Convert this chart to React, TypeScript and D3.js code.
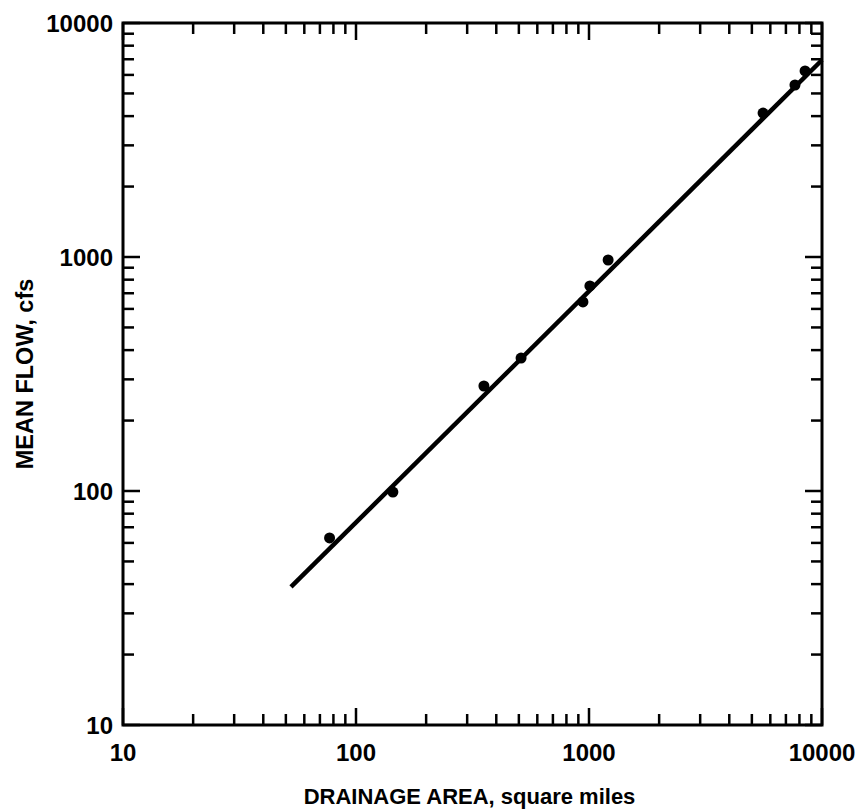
import * as d3 from "d3";
import React, { useEffect, useRef } from "react";

const areaValues = [77, 144, 354, 511, 942, 1009, 1208, 5585, 7656, 8459];
const flowValues = [63, 99, 281, 370, 643, 752, 971, 4121, 5433, 6240];
const fitLine = [
  [52.6, 38.9],
  [10000, 6950],
];
const xTickLabels = [10, 100, 1000, 10000];
const yTickLabels = [10, 100, 1000, 10000];

const W = 859;
const H = 812;
const margin = { top: 23, right: 37, bottom: 87, left: 123 };

const Chart = () => {
  const ref = useRef<SVGSVGElement>(null);

  useEffect(() => {
    document.body.style.margin = "0";
    document.body.style.overflow = "hidden";
    if (!ref.current) return;
    const svg = d3.select(ref.current);
    svg.selectAll("*").remove();

    const x = d3.scaleLog().domain([10, 10000]).range([margin.left, W - margin.right]);
    const y = d3.scaleLog().domain([10, 10000]).range([H - margin.bottom, margin.top]);
    const font = "'Liberation Sans', Arial, Helvetica, sans-serif";

    // minor and major ticks for every decade
    const ticks: number[] = [];
    for (let dec = 10; dec < 10000; dec *= 10) {
      for (let k = 1; k < 10; k++) ticks.push(dec * k);
    }
    ticks.push(10000);
    const isMajor = (v: number) => Math.abs(Math.log10(v) - Math.round(Math.log10(v))) < 1e-9;

    const g = svg.append("g").attr("stroke", "#000").attr("fill", "none");
    const x0 = x.range()[0], x1 = x.range()[1];
    const y0 = y.range()[0], y1 = y.range()[1];

    ticks.forEach((v) => {
      const len = isMajor(v) ? 17 : 11;
      const px = x(v);
      const py = y(v);
      g.append("line").attr("x1", px).attr("x2", px).attr("y1", y0).attr("y2", y0 - len).attr("stroke-width", 2.5);
      g.append("line").attr("x1", px).attr("x2", px).attr("y1", y1).attr("y2", y1 + len).attr("stroke-width", 2.5);
      g.append("line").attr("y1", py).attr("y2", py).attr("x1", x0).attr("x2", x0 + len).attr("stroke-width", 2.5);
      g.append("line").attr("y1", py).attr("y2", py).attr("x1", x1).attr("x2", x1 - len).attr("stroke-width", 2.5);
    });

    g.append("rect")
      .attr("x", x0)
      .attr("y", y1)
      .attr("width", x1 - x0)
      .attr("height", y0 - y1)
      .attr("stroke-width", 3);

    // fitted line
    const line = d3
      .line<number[]>()
      .x((d) => x(d[0]))
      .y((d) => y(d[1]));
    svg
      .append("path")
      .attr("d", line(fitLine))
      .attr("stroke", "#000")
      .attr("stroke-width", 4.5)
      .attr("fill", "none");

    // observed points
    svg
      .append("g")
      .selectAll("circle")
      .data(areaValues.map((a, i) => [a, flowValues[i]]))
      .enter()
      .append("circle")
      .attr("cx", (d) => x(d[0]))
      .attr("cy", (d) => y(d[1]))
      .attr("r", 5.5)
      .attr("fill", "#000");

    // tick labels
    const labels = svg
      .append("g")
      .attr("font-family", font)
      .attr("font-weight", "bold")
      .attr("fill", "#000");

    labels
      .selectAll(".xl")
      .data(xTickLabels)
      .enter()
      .append("text")
      .attr("x", (d) => x(d))
      .attr("y", 761)
      .attr("font-size", 24)
      .attr("text-anchor", "middle")
      .text((d) => d);

    labels
      .selectAll(".yl")
      .data(yTickLabels)
      .enter()
      .append("text")
      .attr("x", x0 - 10)
      .attr("y", (d) => y(d) + 8.5)
      .attr("font-size", 24)
      .attr("text-anchor", "end")
      .text((d) => d);

    labels
      .append("text")
      .attr("x", (x0 + x1) / 2 - 3)
      .attr("y", 804)
      .attr("font-size", 22)
      .attr("text-anchor", "middle")
      .text("DRAINAGE AREA, square miles");

    labels
      .append("text")
      .attr("transform", `translate(33,${(y0 + y1) / 2}) rotate(-90)`)
      .attr("font-size", 23.5)
      .attr("text-anchor", "middle")
      .text("MEAN FLOW, cfs");
  }, []);

  return <svg ref={ref} width={W} height={H} style={{ display: "block" }} />;
};

export default function App() {
  return <Chart />;
}
